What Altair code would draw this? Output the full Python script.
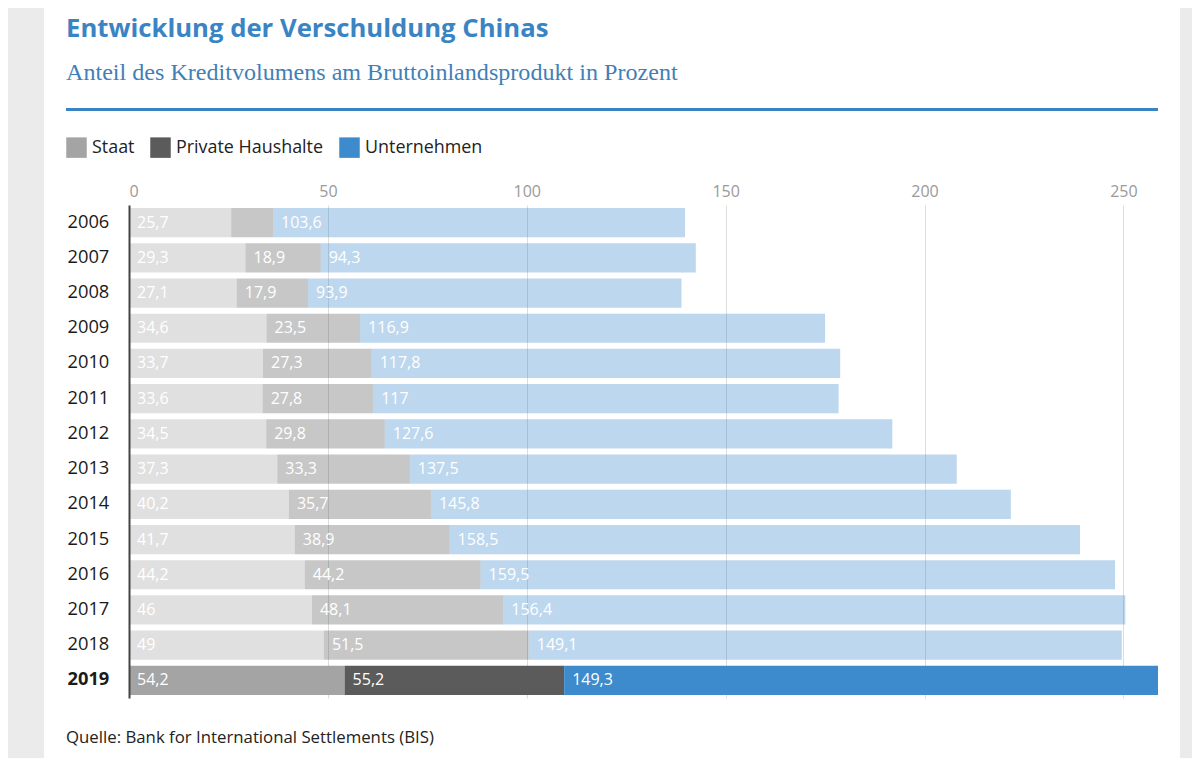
import altair as alt
import pandas as pd

# ---------------- data ----------------
years = ["2006", "2007", "2008", "2009", "2010", "2011", "2012",
         "2013", "2014", "2015", "2016", "2017", "2018", "2019"]
staat = [25.7, 29.3, 27.1, 34.6, 33.7, 33.6, 34.5, 37.3, 40.2, 41.7, 44.2, 46.0, 49.0, 54.2]
haushalte = [10.5, 18.9, 17.9, 23.5, 27.3, 27.8, 29.8, 33.3, 35.7, 38.9, 44.2, 48.1, 51.5, 55.2]
unternehmen = [103.6, 94.3, 93.9, 116.9, 117.8, 117.0, 127.6, 137.5, 145.8, 158.5, 159.5, 156.4, 149.1, 149.3]
series = ["Staat", "Private Haushalte", "Unternehmen"]
x_ticks = [0, 50, 100, 150, 200, 250]

title_text = "Entwicklung der Verschuldung Chinas"
subtitle_text = "Anteil des Kreditvolumens am Bruttoinlandsprodukt in Prozent"
source_text = "Quelle: Bank for International Settlements (BIS)"

# ---------------- style ----------------
colors = ["#a4a4a4", "#5b5b5b", "#3d8bcd"]
BLUE = "#3b84c3"
SANS = "Open Sans"

rows = []
for i, y in enumerate(years):
    for k, (s, vals) in enumerate(zip(series, [staat, haushalte, unternehmen])):
        rows.append({"year": y, "series": s, "order": k, "value": vals[i]})
df = pd.DataFrame(rows)

base = alt.Chart(df).transform_stack(
    stack="value", as_=["x0", "x1"], groupby=["year"], sort=[alt.SortField("order")]
)

x_enc = alt.X(
    "x0:Q",
    scale=alt.Scale(domain=[0, 258.7], nice=False, zero=True),
    axis=alt.Axis(
        orient="top", values=x_ticks, title=None, ticks=False, domain=False,
        grid=True, gridColor="#dcdcdc", gridWidth=1,
        labelColor="#9a9a9a", labelFontSize=16, labelFont=SANS,
        labelPadding=9, labelBaseline="alphabetic", zindex=0,
    ),
)
y_enc = alt.Y(
    "year:N", sort=years,
    scale=alt.Scale(paddingInner=0.17, paddingOuter=0.085),
    axis=alt.Axis(
        title=None, orient="left", labelAlign="left", labelPadding=62,
        ticks=False, domainColor="#444444", domainWidth=2,
        labelFontSize=18.3, labelFont=SANS, labelColor="#1a1a1a",
        labelFontWeight={"condition": {"test": "datum.value == '2019'", "value": "bold"},
                         "value": "normal"},
        zindex=1, grid=False,
    ),
)

bars = base.mark_bar().encode(
    x=x_enc,
    x2="x1:Q",
    y=y_enc,
    color=alt.Color(
        "series:N", sort=series,
        scale=alt.Scale(domain=series, range=colors),
        legend=alt.Legend(
            orient="none", legendX=-63, legendY=-68, direction="horizontal",
            title=None, symbolType="square", symbolSize=420, symbolStrokeWidth=0,
            symbolOpacity=1, labelFontSize=17.9, labelFont=SANS, labelColor="#222222",
            labelOffset=5, columnPadding=15, padding=0, rowPadding=0,
        ),
    ),
    opacity=alt.condition("datum.year == '2019'", alt.value(1), alt.value(0.34)),
)

labels = base.transform_filter("datum.value >= 12").transform_calculate(
    label="replace(format(datum.value, '.1~f'), '.', ',')"
).mark_text(
    align="left", baseline="middle", dx=8, color="white", font=SANS, fontSize=16
).encode(
    x=x_enc, y=y_enc, text="label:N"
)

one = alt.Chart(pd.DataFrame({"k": [0]}))

strip_left = one.mark_rect(color="#ebebeb").encode(
    x=alt.value(-121), x2=alt.value(-85), y=alt.value(-197), y2=alt.value(553))
strip_right = one.mark_rect(color="#ebebeb").encode(
    x=alt.value(1051), x2=alt.value(1063), y=alt.value(-197), y2=alt.value(553))

title = one.mark_text(
    align="left", baseline="alphabetic", font=SANS, fontWeight="bold",
    fontSize=25.7, color=BLUE, text=title_text,
).encode(x=alt.value(-63), y=alt.value(-168))

subtitle = one.mark_text(
    align="left", baseline="alphabetic", font="Liberation Serif",
    fontSize=24.1, color="#3f80b8", text=subtitle_text,
).encode(x=alt.value(-63), y=alt.value(-125))

rule = one.mark_rule(color=BLUE, strokeWidth=3).encode(
    x=alt.value(-63), x2=alt.value(1029), y=alt.value(-95.5))

source = one.mark_text(
    align="left", baseline="alphabetic", font=SANS, fontSize=16.8,
    color="#222222", text=source_text,
).encode(x=alt.value(-63), y=alt.value(538))

chart = alt.layer(
    strip_left, strip_right, bars, labels, title, subtitle, rule, source
).properties(
    width=1029, height=493, padding=0, background="white"
).configure_view(stroke=None)

chart.save("out.html", embed_options={"renderer": "svg", "actions": False})
